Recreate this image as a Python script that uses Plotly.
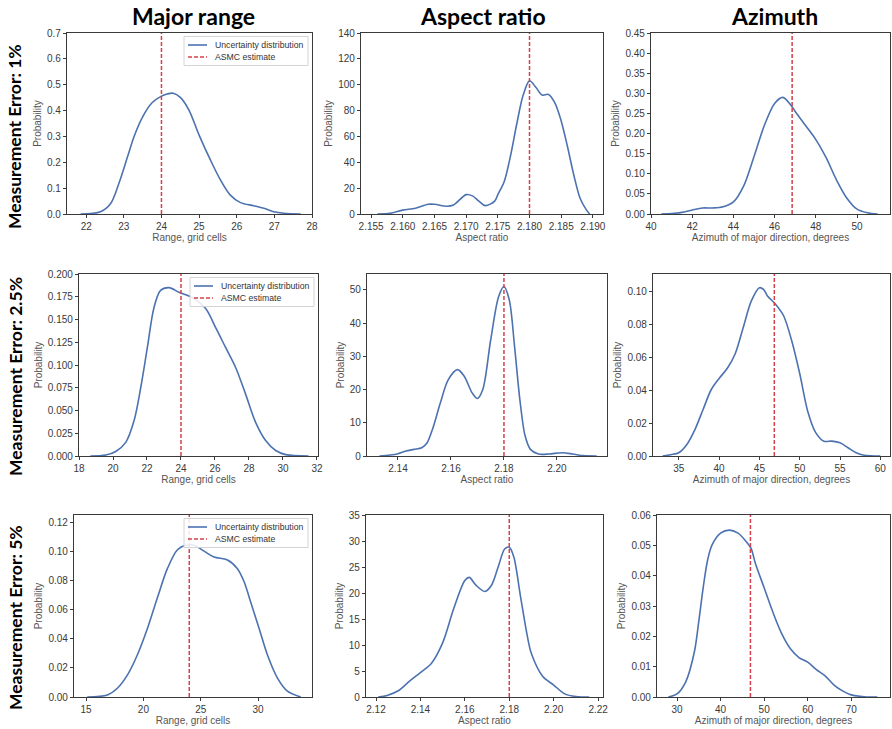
import plotly.graph_objects as go

# ---------------- data ----------------
col_titles = ["Major range", "Aspect ratio", "Azimuth"]
row_titles = ["Measurement Error: 1%", "Measurement Error: 2.5%", "Measurement Error: 5%"]
x_titles = ["Range, grid cells", "Aspect ratio", "Azimuth of major direction, degrees"]
legend_labels = ["Uncertainty distribution", "ASMC estimate"]
estimates = [24.0, 2.18, 46.85]

# Row 1 (1%)
r1_range_x = [21.85, 22.38, 22.65, 22.87, 23.1, 23.27, 23.5, 23.75, 24.0, 24.15, 24.31, 24.5, 24.73, 25.0, 25.3, 25.57, 25.83, 26.1, 26.45, 26.72, 26.98, 27.25, 27.7]
r1_range_y = [0.0, 0.009, 0.041, 0.119, 0.222, 0.299, 0.376, 0.43, 0.456, 0.464, 0.467, 0.451, 0.402, 0.305, 0.209, 0.131, 0.073, 0.044, 0.032, 0.022, 0.009, 0.003, 0.0]
r1_aspect_x = [2.156, 2.158, 2.160, 2.162, 2.164, 2.165, 2.167, 2.168, 2.170, 2.171, 2.172, 2.173, 2.1745, 2.175, 2.176, 2.177, 2.178, 2.179, 2.180, 2.181, 2.182, 2.183, 2.184, 2.185, 2.186, 2.187, 2.188, 2.189, 2.1895]
r1_aspect_y = [0, 0.5, 3, 4.5, 7.5, 7.5, 6, 7, 15, 14, 10, 6.5, 10, 15, 25, 45, 70, 92, 103, 98, 92, 92.5, 86, 72, 52, 30, 12, 3, 0]
r1_azi_x = [40.5, 41, 41.5, 42, 42.5, 43, 43.5, 44, 44.5, 45, 45.5, 46, 46.4, 46.8, 47, 47.5, 48, 48.5, 49, 49.5, 50, 50.5, 51]
r1_azi_y = [0, 0.001, 0.004, 0.01, 0.015, 0.015, 0.018, 0.03, 0.07, 0.143, 0.22, 0.275, 0.29, 0.27, 0.255, 0.22, 0.185, 0.14, 0.085, 0.04, 0.012, 0.003, 0]

# Row 2 (2.5%)
r2_range_x = [18.67, 19.57, 20.16, 20.75, 21.24, 21.63, 22.02, 22.41, 22.8, 23.29, 23.88, 24.67, 25.45, 26.04, 26.63, 27.22, 27.8, 28.39, 28.98, 29.57, 30.16, 31.5]
r2_range_y = [0, 0.001, 0.005, 0.015, 0.039, 0.075, 0.119, 0.163, 0.182, 0.185, 0.18, 0.174, 0.162, 0.141, 0.119, 0.097, 0.068, 0.037, 0.017, 0.006, 0.0015, 0]
r2_aspect_x = [2.133, 2.137, 2.140, 2.143, 2.146, 2.149, 2.151, 2.153, 2.156, 2.159, 2.1625, 2.165, 2.168, 2.170, 2.172, 2.175, 2.178, 2.180, 2.182, 2.184, 2.186, 2.188, 2.190, 2.193, 2.197, 2.202, 2.206, 2.210, 2.215]
r2_aspect_y = [0, 0.3, 0.7, 1.5, 2.0, 2.5, 4, 8, 16, 23, 26, 24, 19, 17.3, 20, 35, 48, 51, 47, 33, 17, 6, 2, 0.6, 0.6, 1.0, 0.6, 0.1, 0]
r2_azi_x = [33, 34, 35, 36, 37, 38, 39, 40, 41, 42, 43, 44, 45, 45.5, 46, 47, 48, 49, 50, 51, 52, 53, 54, 55, 56, 57, 58, 60]
r2_azi_y = [0, 0.0008, 0.002, 0.007, 0.016, 0.028, 0.04, 0.047, 0.053, 0.062, 0.078, 0.094, 0.102, 0.101, 0.097, 0.092, 0.085, 0.07, 0.05, 0.027, 0.014, 0.009, 0.009, 0.008, 0.005, 0.002, 0.0005, 0]

# Row 3 (5%)
r3_range_x = [15.1, 16.86, 17.73, 18.6, 19.48, 20.35, 21.22, 22.09, 22.97, 23.69, 24.42, 25.29, 26.16, 27.33, 28.2, 28.78, 29.36, 30.09, 30.81, 31.69, 32.56, 33.72]
r3_range_y = [0, 0.0014, 0.006, 0.015, 0.029, 0.047, 0.068, 0.088, 0.101, 0.104, 0.104, 0.1, 0.096, 0.094, 0.088, 0.079, 0.065, 0.047, 0.029, 0.013, 0.004, 0]
r3_aspect_x = [2.121, 2.125, 2.130, 2.135, 2.140, 2.145, 2.150, 2.155, 2.160, 2.162, 2.165, 2.169, 2.172, 2.175, 2.178, 2.180, 2.182, 2.185, 2.188, 2.190, 2.195, 2.200, 2.205, 2.210, 2.216]
r3_aspect_y = [0, 0.3, 1.2, 3, 4.7, 6.5, 10.4, 17, 22.4, 23, 21.5, 20.3, 21.5, 25, 28.5, 28.8, 27, 19.5, 12, 8.3, 4, 2.3, 0.6, 0.1, 0]
r3_azi_x = [28, 30, 32, 34, 35, 36, 37, 38, 40, 42, 44, 46, 47, 48, 50, 52, 54, 56, 58, 60, 62, 64, 66, 68, 70, 73, 76]
r3_azi_y = [0, 0.001, 0.005, 0.015, 0.025, 0.036, 0.045, 0.050, 0.054, 0.055, 0.054, 0.051, 0.049, 0.044, 0.036, 0.028, 0.021, 0.016, 0.013, 0.0115, 0.009, 0.007, 0.004, 0.002, 0.0007, 0.0001, 0]

# axis settings per panel (row, col)
x_ranges = [[[21.49, 28.0], [2.1534, 2.1916], [40.0, 51.6]],
            [[18.0, 32.06], [2.1283, 2.2189], [31.8, 61.2]],
            [[13.95, 34.7], [2.1155, 2.2222], [25.4, 78.9]]]
x_ticks = [[(22, 1, "d"), (2.155, 0.005, ".3f"), (40, 2, "d")],
           [(20, 2, "d"), (2.14, 0.02, ".2f"), (35, 5, "d")],
           [(15, 5, "d"), (2.12, 0.02, ".2f"), (30, 10, "d")]]
y_tops = [[0.7, 140, 0.45], [0.2, 54.8, 0.1103], [0.1248, 35, 0.06]]
y_ticks = [[(0.1, ".1f"), (20, "d"), (0.05, ".2f")],
           [(0.025, ".3f"), (10, "d"), (0.02, ".2f")],
           [(0.02, ".2f"), (5, "d"), (0.01, ".2f")]]

curves = [[(r1_range_x, r1_range_y), (r1_aspect_x, r1_aspect_y), (r1_azi_x, r1_azi_y)],
          [(r2_range_x, r2_range_y), (r2_aspect_x, r2_aspect_y), (r2_azi_x, r2_azi_y)],
          [(r3_range_x, r3_range_y), (r3_aspect_x, r3_aspect_y), (r3_azi_x, r3_azi_y)]]

# ---------------- layout geometry (pixels) ----------------
W, H = 892, 729
row_tb = [(33, 214), (274, 456), (515, 697)]
col_lr = [[(67, 312), (361, 603), (651, 890)],
          [(79, 318), (367, 607), (653, 890)],
          [(74, 312), (366, 603), (657, 890)]]

BLUE = "#4C72B0"
RED = "#D6404A"
SANS = "Liberation Sans, Arial, sans-serif"
TICK_FONT = dict(family=SANS, size=10, color="#3a3a3a")
TITLE_FONT = dict(family=SANS, size=10, color="#555555")

def px(x):
    return x / W

def py(y):
    return 1 - y / H

fig = go.Figure()
layout = {}

for r in range(3):
    for c in range(3):
        idx = r * 3 + c + 1
        xa = "xaxis" if idx == 1 else f"xaxis{idx}"
        ya = "yaxis" if idx == 1 else f"yaxis{idx}"
        xr = "x" if idx == 1 else f"x{idx}"
        yr = "y" if idx == 1 else f"y{idx}"
        l, rgt = col_lr[r][c]
        t, b = row_tb[r]
        t0, dt, fx = x_ticks[r][c]
        dty, fy = y_ticks[r][c]
        common = dict(showline=True, linecolor="#3a3a3a", linewidth=1.3, mirror=True,
                      ticks="outside", ticklen=3, tickwidth=1, tickcolor="#3a3a3a",
                      showgrid=False, zeroline=False, tickfont=TICK_FONT, automargin=False)
        layout[xa] = dict(domain=[px(l), px(rgt)], anchor=yr, range=x_ranges[r][c],
                          tick0=t0, dtick=dt, tickformat=fx,
                          title=dict(text=x_titles[c], font=TITLE_FONT, standoff=1), **common)
        layout[ya] = dict(domain=[py(b), py(t)], anchor=xr, range=[0, y_tops[r][c]],
                          tick0=0, dtick=dty, tickformat=fy,
                          title=dict(text="Probability", font=TITLE_FONT, standoff=3), **common)
        xs, ys = curves[r][c]
        fig.add_trace(go.Scatter(x=xs, y=ys, mode="lines",
                                 line=dict(color=BLUE, width=1.6, shape="spline", smoothing=0.9),
                                 name=legend_labels[0], showlegend=False,
                                 xaxis=xr, yaxis=yr, hoverinfo="skip"))
        fig.add_trace(go.Scatter(x=[estimates[c], estimates[c]], y=[0, y_tops[r][c]], mode="lines",
                                 line=dict(color=RED, width=1.5, dash="4px,2px"),
                                 name=legend_labels[1], showlegend=False,
                                 xaxis=xr, yaxis=yr, hoverinfo="skip"))

# manual legends in the first-column panels (top-right corner)
shapes = []
annotations = []
for r in range(3):
    l, rgt = col_lr[r][0]
    t, b = row_tb[r]
    bx1 = rgt - 4
    bx0 = bx1 - 124
    by0 = t + 3.5
    by1 = by0 + 29
    shapes.append(dict(type="rect", xref="paper", yref="paper", x0=px(bx0), x1=px(bx1), y0=py(by1), y1=py(by0),
                       fillcolor="rgba(255,255,255,0.85)", line=dict(color="#d4d4d4", width=1), layer="above"))
    for k, (col, dash) in enumerate([(BLUE, "solid"), (RED, "4px,2px")]):
        yy = by0 + 8.5 + 12 * k
        shapes.append(dict(type="line", xref="paper", yref="paper", x0=px(bx0 + 4), x1=px(bx0 + 23),
                           y0=py(yy), y1=py(yy), line=dict(color=col, width=1.6, dash=dash), layer="above"))
        annotations.append(dict(text=legend_labels[k], x=px(bx0 + 29), y=py(yy), xref="paper", yref="paper",
                                showarrow=False, xanchor="left", yanchor="middle",
                                font=dict(family=SANS, size=8.7, color="#333333")))

col_centers = [193, 483, 774]
for c in range(3):
    annotations.append(dict(text=f"<b>{col_titles[c]}</b>", x=px(col_centers[c]), y=py(16),
                            xref="paper", yref="paper", showarrow=False, xanchor="center", yanchor="middle",
                            font=dict(family="Lato, Open Sans, sans-serif", size=23, color="black")))
row_centers = [137, 377, 618]
for r in range(3):
    annotations.append(dict(text=f"<b>{row_titles[r]}</b>", x=px(15), y=py(row_centers[r]),
                            xref="paper", yref="paper", showarrow=False, xanchor="center", yanchor="middle",
                            textangle=-90,
                            font=dict(family="Lato, Open Sans, sans-serif", size=17.5, color="black")))

fig.update_layout(width=W, height=H, margin=dict(l=0, r=0, t=0, b=0, autoexpand=False),
                  paper_bgcolor="white", plot_bgcolor="white", showlegend=False,
                  shapes=shapes, annotations=annotations, **layout)

fig.write_html("out.html", config={"displayModeBar": False},
               post_script="document.body.style.margin='0px';document.body.style.overflow='hidden';")
